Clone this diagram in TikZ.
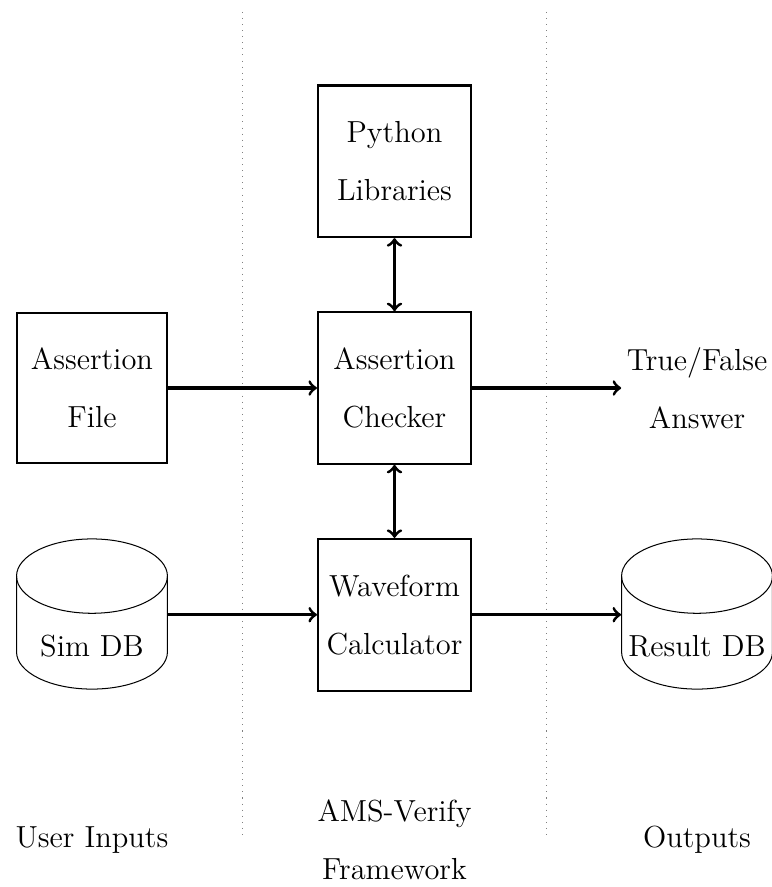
\documentclass[tikz,border=0pt]{standalone}
\usepackage{tikz}
\usetikzlibrary{arrows,positioning,calc}

\tikzset{
block/.style={draw, thick, minimum width=2.12cm, minimum height=2.1cm, inner sep=2pt,
  align=center, font=\linespread{1.63}\large},
store/.style={minimum width=2.09cm, inner sep=0pt, align=center, font=\large},
plain/.style={align=center, inner sep=2pt, font=\linespread{1.63}\large},
flow/.style={->, very thick},
lane/.style={dotted, gray}
}

\begin{document}
\begin{tikzpicture}

\useasboundingbox (-5.464,-6.911) rectangle (5.228,5.374);

% -------- lanes --------
\coordinate (laneAtop) at (-2.10,5.21);
\coordinate (laneAbot) at (-2.10,-6.26);
\coordinate (laneBtop) at (2.10,5.21);
\coordinate (laneBbot) at (2.10,-6.26);
\draw[lane] (laneAtop) -- (laneAbot);
\draw[lane] (laneBtop) -- (laneBbot);

% -------- framework --------
\node[block] (checker) at (0,0) {Assertion\\Checker};
\node[block] (pylib) at (0,3.14) {Python\\Libraries};
\node[block] (wave) at (0,-3.14) {Waveform\\Calculator};

% -------- inputs --------
\node[block, minimum width=2.08cm, minimum height=2.08cm] (afile) at (-4.19,0) {Assertion\\File};
\node[store] (simdb) at (-4.19,-3.57) {Sim DB};

% -------- outputs --------
\node[plain] (answer) at (4.19,0) {True/False\\Answer};
\node[store] (resdb) at (4.19,-3.57) {Result DB};

% -------- databases (drawn round the text) --------
\foreach \db in {simdb,resdb} {
  \coordinate (\db c) at ($(\db.center)+(0,0.44)$);
  \draw ($(\db c)+(-1.045,0.525)$) -- ++(0,-1.05)
    arc[start angle=180, end angle=360, x radius=1.045, y radius=0.515] -- ++(0,1.05);
  \draw ($(\db c)+(0,0.525)$) ellipse [x radius=1.045, y radius=0.515];
}

% -------- arrows --------
\draw[flow] (afile) -- (checker);
\draw[flow] (checker) -- (answer);
\draw[flow, <->] (pylib) -- (checker);
\draw[flow, <->] (checker) -- (wave);
\draw[flow] (simdb.east |- wave.west) -- (wave.west);
\draw[flow] (wave.east) -- (wave.east -| resdb.west);

% -------- lane titles --------
\node[plain] (intitle) at (-4.19,-6.26) {User Inputs};
\node[plain] (fwtitle) at (0,-6.26) {AMS-Verify\\Framework};
\node[plain] (outtitle) at (4.19,-6.26) {Outputs};

\end{tikzpicture}
\end{document}
